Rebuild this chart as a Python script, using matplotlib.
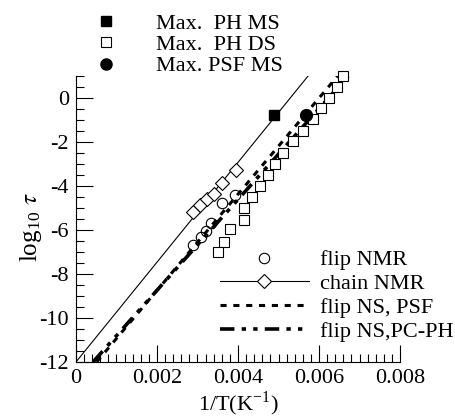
import matplotlib
matplotlib.use("Agg")
import matplotlib.pyplot as plt
from matplotlib.ticker import MultipleLocator, FixedLocator
from matplotlib.lines import Line2D

plt.rcParams['font.family'] = ['Liberation Serif', 'DejaVu Serif']
plt.rcParams['mathtext.fontset'] = 'stix'
plt.rcParams['axes.unicode_minus'] = False

# chain NMR (solid line + diamonds)
chain_line_x = [0.0, 0.00573]
chain_line_y = [-12.0, 1.0]
chain_x = [0.00289, 0.00306, 0.00323, 0.00341, 0.00360, 0.00395]
chain_y = [-5.18, -4.86, -4.59, -4.36, -3.86, -3.27]

# flip NMR (open circles)
flip_x = [0.00289, 0.00309, 0.00321, 0.00333, 0.00360, 0.00393]
flip_y = [-6.68, -6.32, -6.05, -5.68, -4.77, -4.41]

# flip NS lines
psf_x = [0.00051, 0.00646]
psf_y = [-12.0, 1.0]
pcph_x = [0.00042, 0.00672]
pcph_y = [-12.0, 1.0]

# Max. PH DS (open squares)
ds_x = [0.00659, 0.00644, 0.00625, 0.00605, 0.00585, 0.00560, 0.00536, 0.00511,
        0.00491, 0.00474, 0.00454, 0.00435, 0.00415, 0.00415, 0.00380, 0.00365, 0.00351]
ds_y = [1.0, 0.5, 0.0, -0.45, -0.95, -1.5, -1.95, -2.5,
        -3.0, -3.5, -4.0, -4.5, -5.0, -5.55, -5.95, -6.55, -7.0]

# Max. PH MS (filled square), Max. PSF MS (filled circle)
ms_x = [0.00489]
ms_y = [-0.77]
psfms_x = [0.00567]
psfms_y = [-0.75]

fig = plt.figure(figsize=(4.56, 4.20), dpi=100)
ax = fig.add_axes([76/456, 1-362/420, 324/456, 286/420])

ax.plot(chain_line_x, chain_line_y, color='black', lw=0.8)
ax.plot(chain_x, chain_y, ls='none', marker='D', ms=7, mfc='white', mec='black', mew=0.8)
ax.plot(psf_x, psf_y, color='black', lw=2.2, dashes=(2.0, 2.2))
ax.plot(pcph_x, pcph_y, color='black', lw=2.6, dashes=(4.0, 2.0, 1.2, 2.0, 1.2, 2.0))
ax.plot(flip_x, flip_y, ls='none', marker='o', ms=7.5, mfc='none', mec='black', mew=0.8)
ax.plot(ds_x, ds_y, ls='none', marker='s', ms=7.5, mfc='white', mec='black', mew=0.8, clip_on=False)
ax.plot(ms_x, ms_y, ls='none', marker='s', ms=7.5, color='black')
ax.plot(psfms_x, psfms_y, ls='none', marker='o', ms=8.5, color='black')

ax.set_xlim(0, 0.008)
ax.set_ylim(-12, 1)
for s in ['top', 'right']:
    ax.spines[s].set_visible(False)
ax.xaxis.set_major_locator(FixedLocator([0, 0.002, 0.004, 0.006, 0.008]))
ax.xaxis.set_minor_locator(MultipleLocator(0.0002))
ax.yaxis.set_major_locator(MultipleLocator(2))
ax.yaxis.set_minor_locator(MultipleLocator(0.5))
ax.set_xticklabels(['0', '0.002', '0.004', '0.006', '0.008'])
ax.tick_params(which='major', direction='in', length=12, width=0.8, labelsize=16, pad=5)
ax.tick_params(which='minor', direction='in', length=6, width=0.8)
ax.set_xlabel(r'1/T(K$^{\mathregular{-1}}$)', fontsize=16, labelpad=1)
ax.set_ylabel(r'log$_{\mathregular{10}}$ $\tau$', fontsize=18)
ax.yaxis.set_label_coords(-0.10, 0.47)

h_top = [Line2D([], [], ls='none', marker='s', ms=7, color='black'),
         Line2D([], [], ls='none', marker='s', ms=7, mfc='white', mec='black', mew=0.8),
         Line2D([], [], ls='none', marker='o', ms=8, color='black')]
leg1 = fig.legend(h_top, ['Max.  PH MS', 'Max.  PH DS', 'Max. PSF MS'],
                  loc='upper left', bbox_to_anchor=(0.151, 1.016), frameon=False,
                  fontsize=16, handletextpad=1.5, labelspacing=0.03, handlelength=1.5)

h_bot = [Line2D([], [], ls='none', marker='o', ms=7.5, mfc='none', mec='black', mew=0.8),
         Line2D([], [], color='black', lw=0.8, marker='D', ms=7, mfc='white', mec='black', mew=0.8),
         Line2D([], [], color='black', lw=2.2, dashes=(2.0, 2.2)),
         Line2D([], [], color='black', lw=2.6, dashes=(4.0, 2.0, 1.2, 2.0, 1.2, 2.0))]
leg2 = ax.legend(h_bot, ['flip NMR', 'chain NMR', 'flip NS, PSF', 'flip NS,PC-PH'],
                 loc='lower right', bbox_to_anchor=(1.227, 0.0), frameon=False,
                 fontsize=16, handlelength=4.0, handletextpad=0.5, labelspacing=0.15)

fig.savefig('out.png', dpi=100)
